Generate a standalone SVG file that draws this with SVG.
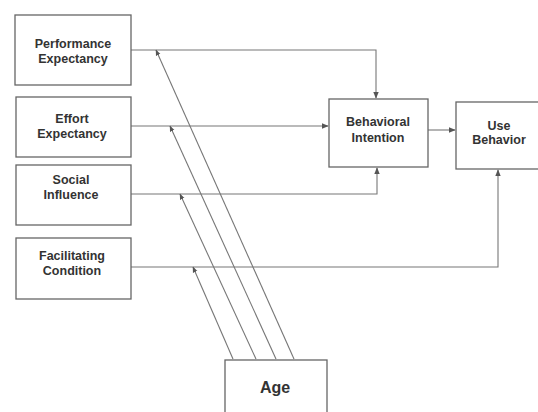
<svg xmlns="http://www.w3.org/2000/svg" width="538" height="412" viewBox="0 0 538 412">
<style>
.box{fill:#fff;stroke:#666;stroke-width:1.3}
.t{font-family:"Liberation Sans",Arial,sans-serif;font-weight:bold;font-size:12.5px;fill:#333;text-anchor:middle}
.c{fill:none;stroke:#777;stroke-width:1.1}
</style>
<defs>
<marker id="a" viewBox="0 0 10 10" refX="9" refY="5" markerWidth="7" markerHeight="7" orient="auto" markerUnits="userSpaceOnUse">
<path d="M0,1 L10,5 L0,9 z" fill="#555"/>
</marker>
<marker id="s" viewBox="0 0 10 10" refX="9" refY="5" markerWidth="6" markerHeight="6" orient="auto" markerUnits="userSpaceOnUse">
<path d="M0,1 L10,5 L0,9 z" fill="#555"/>
</marker>
</defs>
<rect width="538" height="412" fill="#fff"/>
<g id="connectors">
<path class="c" d="M131,50 H376 V98" marker-end="url(#a)"/>
<path class="c" d="M131,126 H328" marker-end="url(#a)"/>
<path class="c" d="M131,194 H377 V168" marker-end="url(#a)"/>
<path class="c" d="M131,267 H498 V170" marker-end="url(#a)"/>
<path class="c" d="M428,130 H455" marker-end="url(#a)"/>
<path class="c" d="M294,359 L156,50" marker-end="url(#s)"/>
<path class="c" d="M276,359 L170,126" marker-end="url(#s)"/>
<path class="c" d="M256,359 L180,194" marker-end="url(#s)"/>
<path class="c" d="M233,359 L193,267" marker-end="url(#s)"/>
</g>
<g id="pe"><rect class="box" x="15" y="15" width="116" height="70"/>
<text class="t" x="73" y="48">Performance</text><text class="t" x="73" y="63">Expectancy</text></g>
<g id="ee"><rect class="box" x="16" y="97" width="115" height="60"/>
<text class="t" x="72" y="123">Effort</text><text class="t" x="72" y="138">Expectancy</text></g>
<g id="si"><rect class="box" x="16" y="165" width="115" height="60"/>
<text class="t" x="71" y="184">Social</text><text class="t" x="71" y="199">Influence</text></g>
<g id="fc"><rect class="box" x="16" y="238" width="115" height="61"/>
<text class="t" x="72" y="260">Facilitating</text><text class="t" x="72" y="275">Condition</text></g>
<g id="bi"><rect class="box" x="329" y="99" width="99" height="68"/>
<text class="t" x="378" y="126">Behavioral</text><text class="t" x="378" y="142">Intention</text></g>
<g id="ub"><rect class="box" x="456" y="102" width="90" height="67"/>
<text class="t" x="499" y="130">Use</text><text class="t" x="499" y="144">Behavior</text></g>
<g id="age"><rect class="box" x="225" y="360" width="102" height="60"/>
<text class="t" x="275" y="393" style="font-size:16px">Age</text></g>
</svg>
